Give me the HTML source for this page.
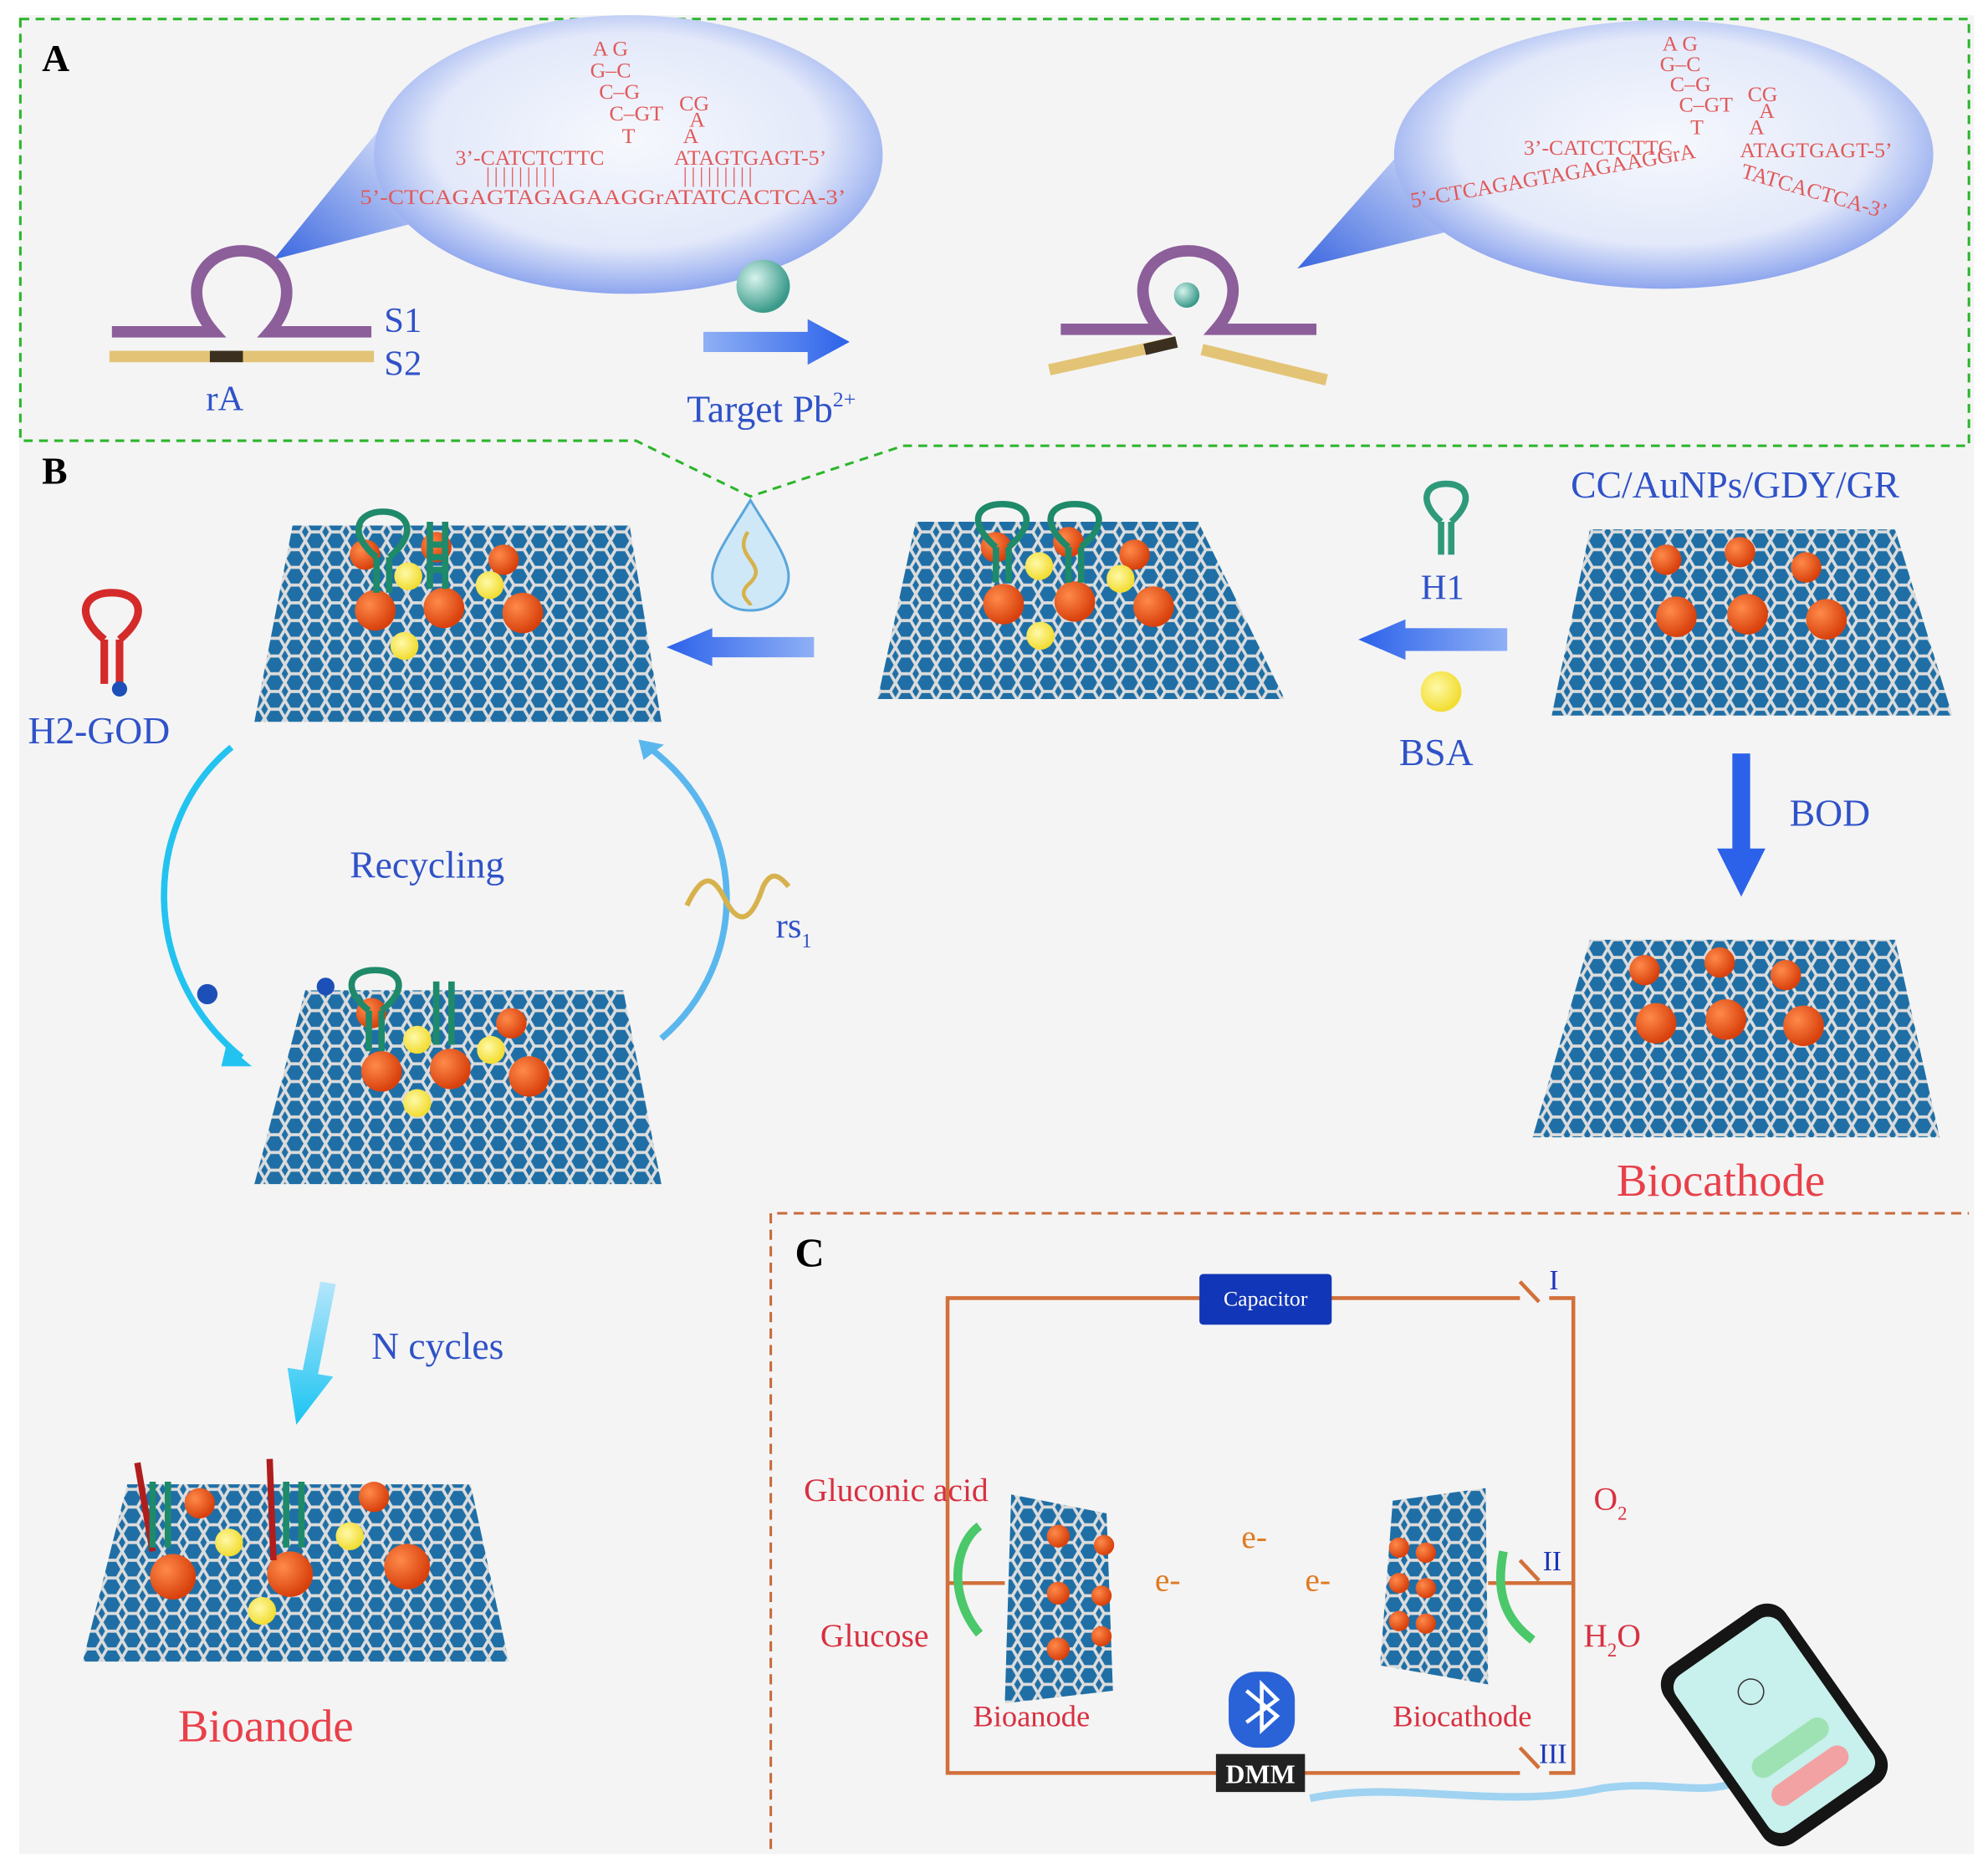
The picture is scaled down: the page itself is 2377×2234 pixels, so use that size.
<!DOCTYPE html>
<html><head><meta charset="utf-8"><style>
html,body{margin:0;padding:0;background:#fff}
svg{display:block}
text{font-family:"Liberation Serif",serif}
</style></head><body>
<svg width="2377" height="2234" viewBox="0 0 1563 1475" preserveAspectRatio="none" xmlns="http://www.w3.org/2000/svg">
<defs>
<radialGradient id="bub" cx="50%" cy="45%" r="55%">
<stop offset="0" stop-color="#f6f8fd"/><stop offset="0.7" stop-color="#e3e9fa"/><stop offset="1" stop-color="#8ea6ee"/>
</radialGradient>
<linearGradient id="tri" x1="0" y1="1" x2="1" y2="0"><stop offset="0" stop-color="#3a66e0"/><stop offset="1" stop-color="#e6ecfb"/></linearGradient>
<linearGradient id="arr" x1="0" x2="1"><stop offset="0" stop-color="#8fb0f5"/><stop offset="1" stop-color="#2c62ea"/></linearGradient>
<linearGradient id="arrL" x1="1" x2="0"><stop offset="0" stop-color="#8fb0f5"/><stop offset="1" stop-color="#2c62ea"/></linearGradient>
<linearGradient id="arrD" x1="0" y1="0" x2="0" y2="1"><stop offset="0" stop-color="#b6e6fb"/><stop offset="1" stop-color="#19c4f2"/></linearGradient>
<radialGradient id="orb" cx="35%" cy="35%" r="65%"><stop offset="0" stop-color="#ff8a4a"/><stop offset="1" stop-color="#d8400c"/></radialGradient>
<radialGradient id="yb" cx="40%" cy="40%" r="60%"><stop offset="0" stop-color="#fff9a8"/><stop offset="1" stop-color="#f2dc30"/></radialGradient>
<radialGradient id="teal" cx="35%" cy="35%" r="65%"><stop offset="0" stop-color="#d6f3ec"/><stop offset="1" stop-color="#3a9a8a"/></radialGradient>
<pattern id="hex" width="16" height="14" patternUnits="userSpaceOnUse">
<rect width="16" height="14" fill="#1f6fa6"/>
<path d="M0 7 L4 0 L12 0 L16 7 L12 14 L4 14 Z" fill="none" stroke="#dcdcdc" stroke-width="2.4"/>
</pattern>
</defs>

<rect x="0" y="0" width="1563" height="1475" fill="#fff"/>
<rect x="15" y="12" width="1537" height="1452" fill="#f4f4f4"/>

<path d="M16 15 H1548 V352 H710 L590 392 L500 348 H16 Z" fill="none" stroke="#2bb52b" stroke-width="2" stroke-dasharray="7,5"/>
<text x="33" y="56" font-size="30" font-weight="bold" fill="#000">A</text>
<text x="33" y="382" font-size="30" font-weight="bold" fill="#000">B</text>

<polygon points="215,205 300,100 330,175" fill="url(#tri)"/>
<ellipse cx="494" cy="122" rx="200" ry="110" fill="url(#bub)"/>
<g fill="#e05a5a" font-size="17">
<text x="466" y="44">A G</text>
<text x="464" y="61">G–C</text>
<text x="471" y="78">C–G</text>
<text x="479" y="95">C–GT</text><text x="534" y="87">CG</text><text x="542" y="100">A</text>
<text x="489" y="113">T</text><text x="537" y="113">A</text>
<text x="358" y="130">3’-CATCTCTTC</text><text x="530" y="130">ATAGTGAGT-5’</text>
<text x="382" y="144" letter-spacing="3">|||||||||</text><text x="537" y="144" letter-spacing="3">|||||||||</text>
<text x="283" y="161" textLength="382" lengthAdjust="spacingAndGlyphs">5’-CTCAGAGTAGAGAAGGrATATCACTCA-3’</text>
</g>
<polygon points="1020,212 1110,110 1150,180" fill="url(#tri)"/>
<ellipse cx="1308" cy="122" rx="212" ry="106" fill="url(#bub)"/>
<g fill="#e05a5a" font-size="17">
<text x="1307" y="40">A G</text>
<text x="1305" y="56">G–C</text>
<text x="1313" y="72">C–G</text>
<text x="1320" y="88">C–GT</text><text x="1374" y="80">CG</text><text x="1383" y="93">A</text>
<text x="1329" y="106">T</text><text x="1375" y="106">A</text>
<text x="1198" y="122">3’-CATCTCTTC</text><text x="1368" y="124">ATAGTGAGT-5’</text>
<text x="1110" y="164" transform="rotate(-10 1110 164)">5’-CTCAGAGTAGAGAAGGrA</text>
<text x="1368" y="140" transform="rotate(16 1368 140)">TATCACTCA-3’</text>
</g>

<path d="M88 262 H168 C140 230 160 198 190 198 C220 198 240 230 212 262 H292" fill="none" stroke="#8c5e9a" stroke-width="9"/>
<rect x="86" y="277" width="208" height="9" fill="#e3c476"/>
<rect x="165" y="277" width="26" height="9" fill="#3b2f20"/>
<text x="302" y="262" font-size="28" fill="#2f52c8">S1</text>
<text x="302" y="296" font-size="28" fill="#2f52c8">S2</text>
<text x="162" y="324" font-size="28" fill="#2f52c8">rA</text>
<circle cx="600" cy="226" r="21" fill="url(#teal)"/>
<polygon points="553,262 635,262 635,252 668,270 635,288 635,278 553,278" fill="url(#arr)"/>
<text x="540" y="333" font-size="30" fill="#2f52c8">Target Pb<tspan font-size="17" dy="-12">2+</tspan></text>
<path d="M834 260 H912 C884 228 904 198 934 198 C964 198 984 228 956 260 H1035" fill="none" stroke="#8c5e9a" stroke-width="9"/>
<circle cx="933" cy="233" r="10" fill="url(#teal)"/>
<path d="M825 292 L925 270" stroke="#e3c476" stroke-width="9"/>
<path d="M900 276 L925 270" stroke="#3b2f20" stroke-width="9"/>
<path d="M945 276 L1043 300" stroke="#e3c476" stroke-width="9"/>

<g>
<polygon points="230,415 495,415 520,570 200,570" fill="url(#hex)"/>
<polygon points="720,412 942,412 1010,552 690,552" fill="url(#hex)"/>
<polygon points="1250,418 1490,418 1535,565 1220,565" fill="url(#hex)"/>
<polygon points="1250,742 1490,742 1525,898 1205,898" fill="url(#hex)"/>
<polygon points="240,782 490,782 520,935 200,935" fill="url(#hex)"/>
<polygon points="100,1172 370,1172 400,1312 65,1312" fill="url(#hex)"/>
<polygon points="795,1180 870,1195 875,1335 790,1345" fill="url(#hex)"/>
<polygon points="1095,1185 1168,1175 1170,1330 1085,1315" fill="url(#hex)"/>
</g>

<g fill="url(#orb)">
<circle cx="287" cy="438" r="12"/><circle cx="343" cy="432" r="12"/><circle cx="396" cy="442" r="12"/>
<circle cx="295" cy="482" r="16"/><circle cx="349" cy="480" r="16"/><circle cx="411" cy="484" r="16"/>
<circle cx="783" cy="432" r="12"/><circle cx="840" cy="428" r="12"/><circle cx="892" cy="438" r="12"/>
<circle cx="789" cy="477" r="16"/><circle cx="845" cy="475" r="16"/><circle cx="907" cy="479" r="16"/>
<circle cx="1310" cy="442" r="12"/><circle cx="1368" cy="436" r="12"/><circle cx="1420" cy="448" r="12"/>
<circle cx="1318" cy="487" r="16"/><circle cx="1374" cy="485" r="16"/><circle cx="1436" cy="489" r="16"/>
<circle cx="1293" cy="766" r="12"/><circle cx="1352" cy="760" r="12"/><circle cx="1404" cy="770" r="12"/>
<circle cx="1302" cy="808" r="16"/><circle cx="1357" cy="805" r="16"/><circle cx="1418" cy="810" r="16"/>
<circle cx="292" cy="800" r="12"/><circle cx="402" cy="808" r="12"/>
<circle cx="300" cy="846" r="16"/><circle cx="354" cy="844" r="16"/><circle cx="416" cy="850" r="16"/>
<circle cx="157" cy="1187" r="12"/><circle cx="294" cy="1182" r="12"/>
<circle cx="136" cy="1245" r="18"/><circle cx="228" cy="1243" r="18"/><circle cx="320" cy="1237" r="18"/>
<circle cx="832" cy="1213" r="9"/><circle cx="868" cy="1220" r="8"/><circle cx="832" cy="1258" r="9"/><circle cx="866" cy="1260" r="8"/><circle cx="832" cy="1302" r="9"/><circle cx="866" cy="1292" r="8"/>
<circle cx="1100" cy="1222" r="8"/><circle cx="1121" cy="1226" r="8"/><circle cx="1100" cy="1250" r="8"/><circle cx="1121" cy="1254" r="8"/><circle cx="1100" cy="1280" r="8"/><circle cx="1121" cy="1282" r="8"/>
</g>
<g fill="url(#yb)">
<circle cx="321" cy="455" r="11"/><circle cx="385" cy="462" r="11"/><circle cx="318" cy="510" r="11"/>
<circle cx="817" cy="447" r="11"/><circle cx="881" cy="457" r="11"/><circle cx="818" cy="502" r="11"/>
<circle cx="328" cy="821" r="11"/><circle cx="386" cy="829" r="11"/><circle cx="328" cy="871" r="11"/>
<circle cx="180" cy="1218" r="11"/><circle cx="275" cy="1213" r="11"/><circle cx="206" cy="1272" r="11"/>
<circle cx="1133" cy="546" r="16"/>
</g>

<g fill="none" stroke-width="5">
<path d="M296 468 V440 M306 468 V440 M296 440 C272 420 282 404 301 404 C320 404 330 420 306 440" stroke="#1e8a6a"/>
<path d="M338 465 V412 M350 465 V412 M338 430 H350 M338 440 H350 M338 450 H350" stroke="#1e8a6a"/>
<path d="M783 460 V432 M793 460 V432 M783 432 C760 412 768 398 788 398 C808 398 816 412 793 432" stroke="#1e8a6a"/>
<path d="M840 460 V432 M850 460 V432 M840 432 C817 412 825 398 845 398 C865 398 873 412 850 432" stroke="#1e8a6a"/>
<path d="M1133 438 V412 M1141 438 V412 M1133 412 C1115 396 1120 382 1137 382 C1154 382 1159 396 1141 412" stroke="#2e9a7a"/>
<path d="M82 540 V505 M94 540 V505 M82 505 C58 485 66 468 88 468 C110 468 118 485 94 505" stroke="#d42a2a" stroke-width="6"/>
<path d="M290 830 V798 M300 830 V798 M290 798 C268 780 275 766 295 766 C315 766 322 780 300 798" stroke="#1e8a6a"/>
<path d="M343 825 V775 M355 825 V775" stroke="#1e8a6a"/>
<path d="M108 1155 L120 1225 M212 1152 L215 1232" stroke="#b01d1d" stroke-width="5"/>
<path d="M120 1170 V1222 M132 1170 V1222 M225 1170 V1222 M237 1170 V1222" stroke="#1e8a6a"/>
</g>
<circle cx="94" cy="544" r="6" fill="#1c4fb8"/>
<circle cx="163" cy="785" r="8" fill="#1c4fb8"/><circle cx="256" cy="779" r="7" fill="#1c4fb8"/>

<path d="M590 395 C575 420 560 440 560 455 C560 472 574 482 590 482 C606 482 620 472 620 455 C620 440 605 420 590 395 Z" fill="#cfe8f8" stroke="#5aa6dc" stroke-width="2"/>
<path d="M588 420 C575 440 605 445 590 460 C578 470 590 475 590 478" fill="none" stroke="#d7b24c" stroke-width="3"/>

<polygon points="640,503 560,503 560,496 524,511 560,526 560,519 640,519" fill="url(#arrL)"/>
<polygon points="1185,496 1105,496 1105,489 1068,505 1105,521 1105,514 1185,514" fill="url(#arrL)"/>
<polygon points="1362,595 1376,595 1376,670 1388,670 1369,708 1350,670 1362,670" fill="#2c62ea"/>
<text x="1235" y="393" font-size="30" fill="#2f52c8">CC/AuNPs/GDY/GR</text>
<text x="1117" y="473" font-size="28" fill="#2f52c8">H1</text>
<text x="1100" y="604" font-size="30" fill="#2f52c8">BSA</text>
<text x="1407" y="652" font-size="30" fill="#2f52c8">BOD</text>
<text x="22" y="587" font-size="30" fill="#2f52c8">H2-GOD</text>
<text x="275" y="693" font-size="30" fill="#2f52c8">Recycling</text>
<text x="610" y="740" font-size="28" fill="#2f52c8">rs<tspan font-size="16" dy="8">1</tspan></text>
<text x="292" y="1073" font-size="30" fill="#2f52c8">N cycles</text>
<text x="1271" y="944" font-size="36" fill="#e8404a">Biocathode</text>
<text x="140" y="1375" font-size="36" fill="#e8404a">Bioanode</text>

<path d="M182 590 C110 650 110 770 190 835" fill="none" stroke="#22c3f0" stroke-width="5"/>
<polygon points="178,825 198,842 174,842" fill="#22c3f0"/>
<path d="M520 820 C590 760 590 650 510 590" fill="none" stroke="#5ab7ee" stroke-width="5"/>
<polygon points="502,584 522,588 506,600" fill="#5ab7ee"/>
<path d="M540 715 C552 690 560 690 570 710 C580 730 590 730 600 700 C606 688 612 690 620 700" fill="none" stroke="#d7b24c" stroke-width="4"/>
<polygon points="252,1012 264,1014 250,1085 262,1087 233,1125 226,1080 238,1082" fill="url(#arrD)"/>

<path d="M606 1460 V958 H1548" fill="none" stroke="#c86a3a" stroke-width="2" stroke-dasharray="8,5"/>
<text x="625" y="1000" font-size="32" font-weight="bold" fill="#000">C</text>
<g fill="none" stroke="#d2703a" stroke-width="3">
<path d="M1195 1025 H745 V1400 H1195"/>
<path d="M1218 1025 H1237 V1400 H1218"/>
<path d="M745 1250 H790 M1170 1250 H1237"/>
<path d="M1195 1012 L1210 1028 M1195 1232 L1210 1248 M1195 1380 L1210 1396"/>
</g>
<rect x="943" y="1006" width="104" height="40" rx="3" fill="#1236b8"/>
<text x="995" y="1031" font-size="17" fill="#fff" text-anchor="middle" font-family="Liberation Sans,sans-serif">Capacitor</text>
<rect x="956" y="1385" width="70" height="30" fill="#222"/>
<text x="991" y="1408" font-size="21" font-weight="bold" fill="#fff" text-anchor="middle" font-family="Liberation Sans,sans-serif">DMM</text>
<rect x="966" y="1320" width="52" height="60" rx="22" fill="#2a62d8"/>
<path d="M980 1335 L1004 1355 L992 1366 V1330 L1004 1342 L980 1360" fill="none" stroke="#fff" stroke-width="3"/>
<text x="1218" y="1018" font-size="22" fill="#1a33b8">I</text>
<text x="1213" y="1240" font-size="22" fill="#1a33b8">II</text>
<text x="1210" y="1392" font-size="22" fill="#1a33b8">III</text>
<text x="632" y="1185" font-size="26" fill="#d83040">Gluconic acid</text>
<text x="645" y="1300" font-size="26" fill="#d83040">Glucose</text>
<text x="1253" y="1192" font-size="26" fill="#d83040">O<tspan font-size="15" dy="8">2</tspan></text>
<text x="1245" y="1300" font-size="26" fill="#d83040">H<tspan font-size="15" dy="8">2</tspan><tspan dy="-8">O</tspan></text>
<text x="765" y="1363" font-size="24" fill="#d83040">Bioanode</text>
<text x="1095" y="1363" font-size="24" fill="#d83040">Biocathode</text>
<text x="976" y="1222" font-size="26" fill="#e07a20">e-</text>
<text x="908" y="1256" font-size="26" fill="#e07a20">e-</text>
<text x="1026" y="1256" font-size="26" fill="#e07a20">e-</text>
<path d="M770 1290 C745 1260 750 1220 770 1205" fill="none" stroke="#4ac86a" stroke-width="7"/>
<path d="M1182 1225 C1175 1260 1185 1280 1205 1295" fill="none" stroke="#4ac86a" stroke-width="7"/>
<path d="M1030 1420 C1100 1405 1180 1430 1260 1412 C1310 1405 1340 1420 1370 1405" fill="none" stroke="#7ac4f0" stroke-width="6" opacity="0.7"/>
<g transform="rotate(-35 1395 1362)">
<rect x="1337" y="1277" width="116" height="170" rx="18" fill="#151515"/>
<rect x="1345" y="1287" width="100" height="150" rx="12" fill="#c8f0ec"/>
<circle cx="1395" cy="1330" r="10" fill="none" stroke="#333"/>
<rect x="1360" y="1375" width="70" height="18" rx="9" fill="#9ee2b4"/>
<rect x="1360" y="1402" width="70" height="18" rx="9" fill="#f2a2a2"/>
</g>
</svg>
</body></html>
